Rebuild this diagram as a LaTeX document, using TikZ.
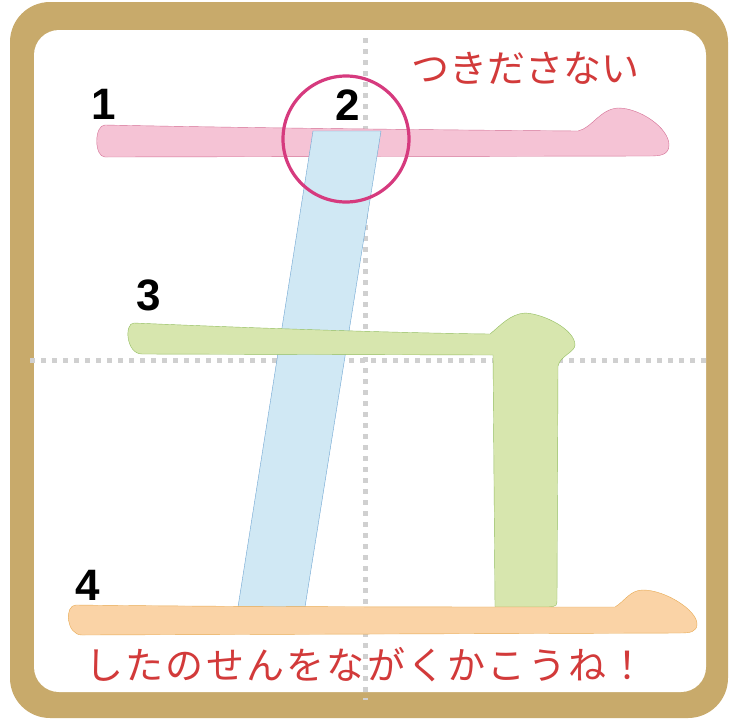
\documentclass[tikz,border=0pt]{standalone}
\usepackage{fontspec}
\setmainfont{Liberation Sans}
\newfontfamily\jpfont{Noto Sans CJK JP}
\newfontfamily\jpwidefont[LetterSpace=6]{Noto Sans CJK JP}
\usepackage{xcolor}
\usetikzlibrary{positioning}

\definecolor{framegold}{HTML}{C8AA6B}
\definecolor{pinkfill}{HTML}{F5C3D5}
\definecolor{pinkline}{HTML}{D46F94}
\definecolor{bluefill}{HTML}{D0E8F4}
\definecolor{blueline}{HTML}{6FA5D2}
\definecolor{greenfill}{HTML}{D7E6AE}
\definecolor{greenline}{HTML}{93BE60}
\definecolor{orangefill}{HTML}{FAD3A6}
\definecolor{orangeline}{HTML}{E8AA52}
\definecolor{ringred}{HTML}{D63A7E}
\definecolor{hintred}{HTML}{D23A3A}
\definecolor{gridgray}{HTML}{D0D0D0}

\begin{document}
\begin{tikzpicture}[x=1pt,y=-1pt,
    gridline/.style={gridgray,line width=5pt,dash pattern=on 5pt off 6pt},
    strokenum/.style={font=\fontsize{44}{44}\selectfont\bfseries,inner sep=0pt},
    hint/.style={hintred,font=\jpfont\fontsize{38}{38}\selectfont,inner sep=0pt}]
				\useasboundingbox (0,0) rectangle (731,721);
				% frame
				\fill[framegold,rounded corners=40pt] (10,2) rectangle (728,718);
				\fill[white,rounded corners=25pt] (34,30) rectangle (706,692);
				% guide lines
				\draw[gridline] (365,38) -- (365,700);
				\draw[gridline] (30,360) -- (708,360);
				% stroke 1
				\filldraw[fill=pinkfill,draw=pinkline,thin] (105,125) .. controls (250,128) and (450,130) .. (578,131)
					.. controls (592,128) and (600,109) .. (618,108) .. controls (640,108) and (669,128) .. (669,145)
					.. controls (669,155) and (660,156) .. (650,156) -- (105,157) .. controls (94,157) and (94,125) .. (105,125) -- cycle;
				% stroke 2
				\filldraw[fill=bluefill,draw=blueline,thin] (313,131) -- (381,131) -- (305,607) -- (238,607) -- cycle;
				% stroke 3
				\filldraw[fill=greenfill,draw=greenline,thin] (134,323) .. controls (250,328) and (400,333) .. (490,334)
					.. controls (500,326) and (510,314) .. (525,313) .. controls (545,314) and (575,330) .. (575,345)
					.. controls (575,352) and (560,356) .. (558,366) -- (557,598) .. controls (557,606) .. (549,607)
					-- (495,607) -- (493,355) -- (142,354) .. controls (126,354) and (124,323) .. (134,323) -- cycle;
				% stroke 4
				\filldraw[fill=orangefill,draw=orangeline,thin] (76,605) .. controls (250,607) and (450,607) .. (615,607)
					.. controls (625,601) and (630,590) .. (643,590) .. controls (665,590) and (697,610) .. (697,624)
					.. controls (697,632) and (690,633) .. (680,633) -- (82,635) .. controls (66,635) and (64,605) .. (76,605) -- cycle;
				% check ring
				\draw[ringred,line width=3.2pt] (346,139) circle (63pt);
				% stroke numbers
				\node[strokenum] (n1) at (104,104) {1};
				\node[strokenum] (n2) at (348,105) {2};
				\node[strokenum] (n3) at (149,295) {3};
				\node[strokenum] (n4) at (88,585) {4};
				% hints
				\node[hint] (top hint) at (525,68) {つきださない};
				\node[hint,font=\jpwidefont\fontsize{38}{38}\selectfont] (bottom hint) at (366,665) {したのせんをながくかこうね！};
\end{tikzpicture}
\end{document}
